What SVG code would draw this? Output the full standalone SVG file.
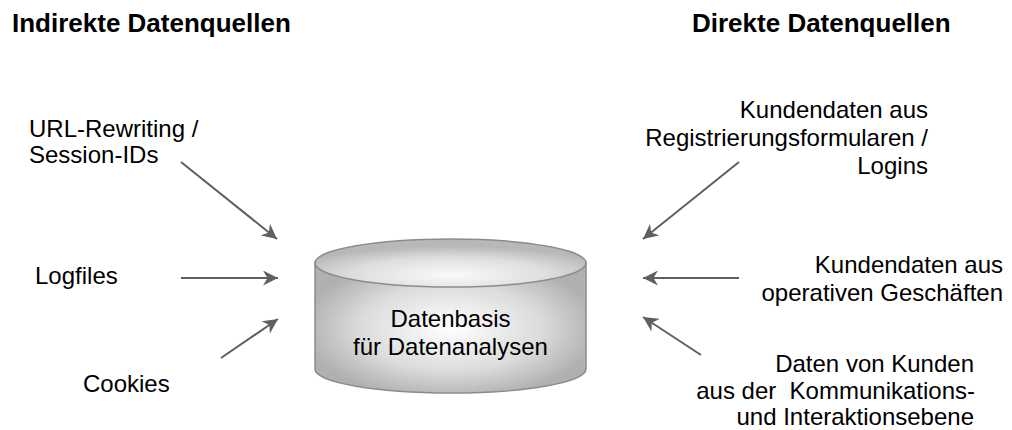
<svg xmlns="http://www.w3.org/2000/svg" width="1012" height="430" viewBox="0 0 1012 430">
  <style>
    .title { font-family: "Liberation Sans", Arial, sans-serif; font-size: 26px; font-weight: bold; fill: #000; }
    .label { font-family: "Liberation Sans", Arial, sans-serif; font-size: 24px; fill: #000; }
    .end { text-anchor: end; }
    .mid { text-anchor: middle; }
    .arrow { stroke: #606060; stroke-width: 2; fill: none; marker-end: url(#head); }
    .drum { stroke: #8c8c8c; stroke-width: 1.5; }
  </style>
  <defs>
    <marker id="head" viewBox="0 0 15 15" refX="15" refY="7.5" markerWidth="15" markerHeight="15" markerUnits="userSpaceOnUse" orient="auto">
      <path d="M0,0 L15,7.5 L0,15 L4.5,7.5 Z" fill="#606060"/>
    </marker>
    <radialGradient id="bodyFill" cx="50%" cy="50%" r="55%">
      <stop offset="0" stop-color="#ffffff"/>
      <stop offset="0.6" stop-color="#dcdcdc"/>
      <stop offset="1" stop-color="#b0b0b0"/>
    </radialGradient>
    <radialGradient id="lidFill" cx="50%" cy="75%" r="60%">
      <stop offset="0" stop-color="#fafafa"/>
      <stop offset="0.6" stop-color="#dedede"/>
      <stop offset="1" stop-color="#b8b8b8"/>
    </radialGradient>
  </defs>

  <!-- column headings -->
  <g id="heading-indirect">
    <text class="title" x="12" y="32">Indirekte Datenquellen</text>
  </g>
  <g id="heading-direct">
    <text class="title" x="692" y="32">Direkte Datenquellen</text>
  </g>

  <!-- central database drum -->
  <g id="database">
    <path class="drum" fill="url(#bodyFill)" d="M315,263 L315,369 A135.5,24 0 0 0 586,369 L586,263 Z"/>
    <ellipse class="drum" fill="url(#lidFill)" cx="450.5" cy="263" rx="135.5" ry="24"/>
    <text class="label mid" x="450.5" y="327">Datenbasis</text>
    <text class="label mid" x="450.5" y="355">für Datenanalysen</text>
  </g>

  <!-- indirect sources -->
  <g id="src-url-rewriting">
    <text class="label" x="29" y="137">URL-Rewriting /</text>
    <text class="label" x="29" y="163">Session-IDs</text>
  </g>
  <g id="src-logfiles">
    <text class="label" x="35" y="284">Logfiles</text>
  </g>
  <g id="src-cookies">
    <text class="label" x="83" y="392">Cookies</text>
  </g>

  <!-- direct sources -->
  <g id="src-registration">
    <text class="label end" x="928" y="118">Kundendaten aus</text>
    <text class="label end" x="928" y="146">Registrierungsformularen /</text>
    <text class="label end" x="928" y="174">Logins</text>
  </g>
  <g id="src-operations">
    <text class="label end" x="1003" y="273">Kundendaten aus</text>
    <text class="label end" x="1003" y="301">operativen Geschäften</text>
  </g>
  <g id="src-communication">
    <text class="label end" x="974" y="372">Daten von Kunden</text>
    <text class="label end" x="975" y="399" xml:space="preserve">aus der  Kommunikations-</text>
    <text class="label end" x="974" y="425">und Interaktionsebene</text>
  </g>

  <!-- connectors -->
  <g id="connectors">
    <line class="arrow" x1="181" y1="162" x2="277" y2="239"/>
    <line class="arrow" x1="181" y1="278" x2="278" y2="278"/>
    <line class="arrow" x1="221" y1="358" x2="278" y2="319"/>
    <line class="arrow" x1="739" y1="162" x2="643" y2="239"/>
    <line class="arrow" x1="739" y1="278" x2="643" y2="278"/>
    <line class="arrow" x1="701" y1="355" x2="643" y2="317"/>
  </g>
</svg>
